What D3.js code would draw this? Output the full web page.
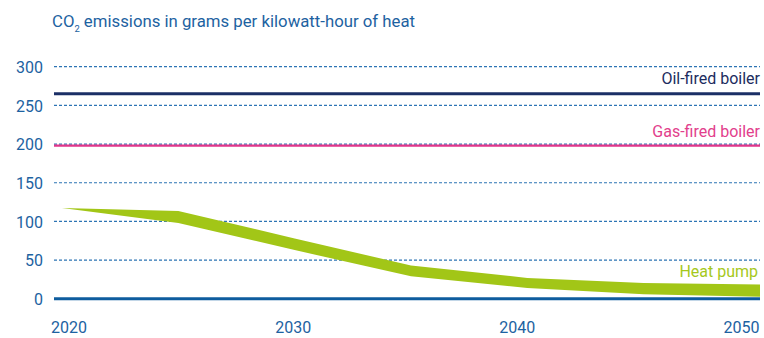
<!DOCTYPE html>
<html>
<head>
<meta charset="utf-8">
<script src="https://cdn.jsdelivr.net/npm/d3@7"></script>
<style>
  html, body { margin: 0; padding: 0; background: #fff; }
  svg { display: block; font-family: "Roboto", "Liberation Sans", sans-serif; }
</style>
</head>
<body>
<svg id="chart" width="764" height="338"></svg>
<script>
// ---- data ----
const years = [2020, 2025, 2030, 2035, 2040, 2045, 2050];
const heatPumpUpper = [117.5, 113.5, 78, 43, 27, 20.5, 18.5];
const heatPumpLower = [117.5, 98, 63, 29, 14, 6, 2.5];
const oilBoiler = 265;
const gasBoiler = 198;
const yTicks = [0, 50, 100, 150, 200, 250, 300];
const xTickLabels = [2020, 2030, 2040, 2050];
const seriesLabels = ["Oil-fired boiler", "Gas-fired boiler", "Heat pump"];

const svg = d3.select("#chart");
const blue = "#1d62a1";

const x = d3.scaleLinear().domain([2020, 2050]).range([62, 760]);
const xAxisScale = d3.scaleLinear().domain([2020, 2050]).range([68.5, 741]);
const y = d3.scaleLinear().domain([0, 300]).range([298.8, 66.7]);
const plotLeft = 54, plotRight = 760;

// title
const title = svg.append("text")
  .attr("x", 52).attr("y", 27)
  .attr("fill", blue).attr("font-size", 16)
  .attr("textLength", 363).attr("lengthAdjust", "spacingAndGlyphs");
title.append("tspan").text("CO");
title.append("tspan").attr("font-size", 9).attr("dy", 5).text("2");
title.append("tspan").attr("dy", -5).text(" emissions in grams per kilowatt-hour of heat");

// gridlines
svg.append("g").selectAll("line")
  .data(yTicks.filter(d => d > 0))
  .join("line")
  .attr("x1", plotLeft).attr("x2", plotRight)
  .attr("y1", d => y(d)).attr("y2", d => y(d))
  .attr("stroke", "#2d74b4").attr("stroke-width", 1.2)
  .attr("stroke-dasharray", "3,2");

// y axis labels
const yAxis = d3.axisLeft(y).tickValues(yTicks).tickSize(0).tickPadding(0);
const gy = svg.append("g").attr("transform", "translate(43,0)").call(yAxis);
gy.select(".domain").remove();
gy.selectAll("text").attr("fill", blue).attr("font-size", 16)
  .attr("font-family", "Roboto, sans-serif").attr("dy", "0.36em");

// x axis labels
const xAxis = d3.axisBottom(xAxisScale).tickValues(xTickLabels).tickFormat(d3.format("d")).tickSize(0).tickPadding(0);
const gx = svg.append("g").attr("transform", "translate(0,322)").call(xAxis);
gx.select(".domain").remove();
gx.selectAll("text").attr("fill", blue).attr("font-size", 16)
  .attr("font-family", "Roboto, sans-serif").attr("dy", "0.71em");

// heat pump band
const bandData = years.map((yr, i) => ({ year: yr, lo: heatPumpLower[i], hi: heatPumpUpper[i] }));
svg.append("path")
  .datum(bandData)
  .attr("fill", "#a2c617")
  .attr("d", d3.area().x(d => x(d.year)).y0(d => y(d.lo)).y1(d => y(d.hi)));

// zero line
svg.append("line")
  .attr("x1", plotLeft).attr("x2", plotRight)
  .attr("y1", y(0)).attr("y2", y(0))
  .attr("stroke", "#0e5c9e").attr("stroke-width", 3);

// oil line
svg.append("line")
  .attr("x1", plotLeft).attr("x2", plotRight)
  .attr("y1", y(oilBoiler)).attr("y2", y(oilBoiler))
  .attr("stroke", "#1b2f66").attr("stroke-width", 3);

// gas line
svg.append("line")
  .attr("x1", plotLeft).attr("x2", plotRight)
  .attr("y1", y(gasBoiler)).attr("y2", y(gasBoiler))
  .attr("stroke", "#e0358a").attr("stroke-width", 2.2);

// series labels
const labelData = [
  { text: seriesLabels[0], yv: oilBoiler, off: -10, color: "#1c2c5e", xr: 760 },
  { text: seriesLabels[1], yv: gasBoiler, off: -9, color: "#e2408c", xr: 760 },
  { text: seriesLabels[2], yv: heatPumpUpper[6], off: -7, color: "#a5c81c", xr: 758 }
];
svg.append("g").selectAll("text")
  .data(labelData)
  .join("text")
  .attr("x", d => d.xr)
  .attr("y", d => y(d.yv) + d.off)
  .attr("text-anchor", "end")
  .attr("fill", d => d.color)
  .attr("font-size", 16)
  .text(d => d.text);
</script>
</body>
</html>
